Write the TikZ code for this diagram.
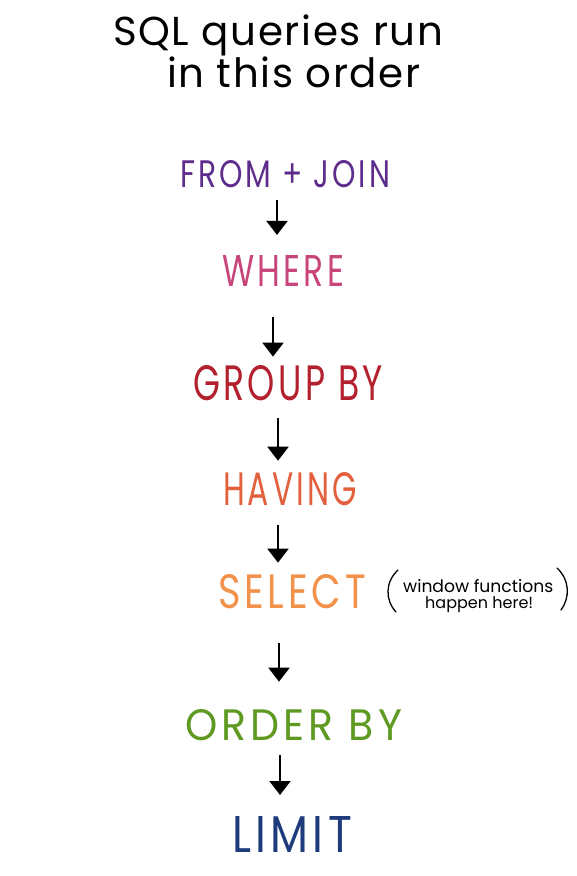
\documentclass[tikz,border=0pt]{standalone}
\usepackage{fontspec}
\setmainfont{Poppins}
\usetikzlibrary{arrows.meta}
\definecolor{cfrom}{HTML}{5E2D8C}
\definecolor{cwhere}{HTML}{C8457A}
\definecolor{cgroup}{HTML}{B3202E}
\definecolor{chaving}{HTML}{E2603C}
\definecolor{cselect}{HTML}{F2924A}
\definecolor{corder}{HTML}{5E9A22}
\definecolor{climit}{HTML}{1E3C7C}
\tikzset{
  lbl/.style={inner sep=0pt, outer sep=0pt, anchor=south west},
  flow/.style={line width=2pt, -{Triangle[width=21pt,length=14pt]}},
  paren/.style={line width=1.3pt, line cap=round},
}
\newcommand{\fitbox}[3]{\resizebox{#1}{#2}{\addfontfeatures{LetterSpace=10}#3}}
\begin{document}
\begin{tikzpicture}[x=1pt,y=-1pt]
\useasboundingbox (0,0) rectangle (576,876);
% title
\node[inner sep=0pt, anchor=base west] (t1) at (113,45) {\resizebox{330pt}{!}{\addfontfeatures{LetterSpace=4}SQL queries run}};
\node[inner sep=0pt, anchor=base west] (t2) at (167,87) {\resizebox{253pt}{!}{\addfontfeatures{LetterSpace=4}in this order}};
% steps
\node[lbl, text=cfrom]   (from)   at (180,188) {\fitbox{210pt}{27pt}{FROM + JOIN}};
\node[lbl, text=cwhere]  (where)  at (222,287) {\fitbox{122pt}{31pt}{WHERE}};
\node[lbl, text=cgroup]  (group)  at (193,401) {\fitbox{190pt}{35pt}{GROUP BY}};
\node[lbl, text=chaving] (having) at (223,506) {\fitbox{134pt}{33pt}{HAVING}};
\node[lbl, text=cselect] (select) at (218,609) {\fitbox{148pt}{34pt}{SELECT}};
\node[lbl, text=corder]  (order)  at (185,741) {\fitbox{217pt}{31pt}{ORDER BY}};
\node[lbl, text=climit]  (limit)  at (232,852) {\fitbox{120pt}{36pt}{LIMIT}};
% note
\node[inner sep=0pt, anchor=base west] (n1) at (403,592) {\resizebox{150pt}{!}{window functions}};
\node[inner sep=0pt, anchor=base west] (n2) at (425,608) {\resizebox{108pt}{!}{happen here!}};
\draw[paren] (398,570) .. controls (385,582) and (385,600) .. (396,612);
\draw[paren] (557,568) .. controls (570,580) and (570,598) .. (561,610);
% arrows
\path (277,0) coordinate (x1) (273,0) coordinate (x2) (278,0) coordinate (x3)
      (278,0) coordinate (x4) (279,0) coordinate (x5) (280,0) coordinate (x6);
\draw[flow, shorten <=12pt, shorten >=21pt] (from.south -| x1) -- (where.north -| x1);
\draw[flow, shorten <=30pt, shorten >=9pt] (where.south -| x2) -- (group.north -| x2);
\draw[flow, shorten <=17pt, shorten >=12pt] (group.south -| x3) -- (having.north -| x3);
\draw[flow, shorten <=19pt, shorten >=12pt] (having.south -| x4) -- (select.north -| x4);
\draw[flow, shorten <=34pt, shorten >=28pt] (select.south -| x5) -- (order.north -| x5);
\draw[flow, shorten <=14pt, shorten >=21pt] (order.south -| x6) -- (limit.north -| x6);
\end{tikzpicture}
\end{document}
